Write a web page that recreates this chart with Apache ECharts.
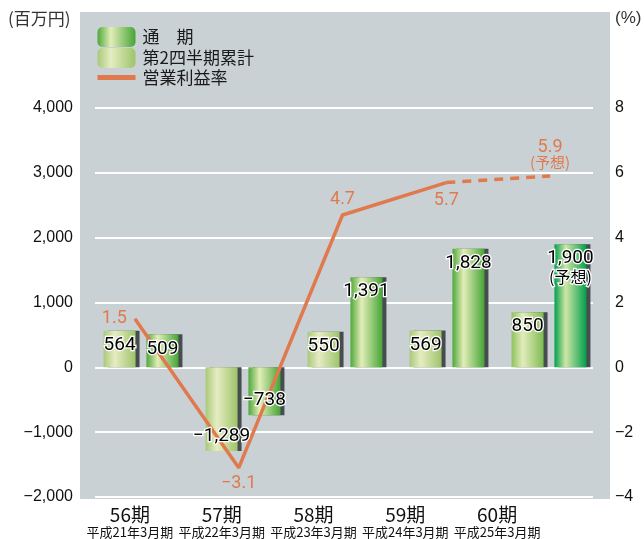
<!DOCTYPE html>
<html><head><meta charset="utf-8">
<script src="https://cdn.jsdelivr.net/npm/echarts@6/dist/echarts.min.js"></script>
<style>html,body{margin:0;padding:0;background:#fff}#c{width:644px;height:539px}</style>
</head><body><div id="c"></div>
<script>
const categories = ['56期', '57期', '58期', '59期', '60期'];
const periodLabels = ['平成21年3月期', '平成22年3月期', '平成23年3月期', '平成24年3月期', '平成25年3月期'];
const q2Values = [564, -1289, 550, 569, 850];
const fullValues = [509, -738, 1391, 1828, 1900];
const marginValues = [1.5, -3.1, 4.7, 5.7, 5.9];
const forecastIndex = 4;
const leftTicks = { min: -2000, max: 4000, interval: 1000 };
const rightTicks = { min: -4, max: 8, interval: 2 };
const seriesNames = { full: '通　期', q2: '第2四半期累計', margin: '営業利益率' };

const JP = '"Noto Sans CJK JP", "Noto Sans", sans-serif';
const NUM = 'Roboto, "Liberation Sans", sans-serif';
const ORANGE = '#e07a4e';

function fmt(v) {
  const s = Math.abs(v).toLocaleString('en-US');
  return (v < 0 ? '−' : '') + s;
}
function grad(stops) {
  return { type: 'linear', x: 0, y: 0, x2: 1, y2: 0,
    colorStops: stops.map(s => ({ offset: s[0], color: s[1] })) };
}
const q2Grad = grad([[0, '#a9c97a'], [0.35, '#e6ecc2'], [1, '#9dc46a']]);
const q2GradF = grad([[0, '#8fc25e'], [0.35, '#e2ecbc'], [1, '#7fbb52']]);
const fullGrad = grad([[0, '#4ea83a'], [0.35, '#e3edb8'], [1, '#45a535']]);
const fullGradF = grad([[0, '#00a04c'], [0.35, '#cfe6a6'], [1, '#00a04c']]);

const shadow = { shadowColor: '#474c50', shadowOffsetX: 4, shadowOffsetY: 0, shadowBlur: 0 };
const barLabelBase = {
  show: true, fontFamily: NUM, fontSize: 19, color: '#000',
  textBorderColor: '#fff', textBorderWidth: 2.5, distance: 5,
  rich: { f: { fontFamily: JP, fontSize: 16, color: '#000', textBorderColor: '#fff', textBorderWidth: 2.5, lineHeight: 18 } }
};
function barData(vals, normalGrad, fcGrad) {
  return vals.map((v, i) => ({
    value: v,
    itemStyle: Object.assign({ color: i === forecastIndex ? fcGrad : normalGrad }, shadow)
  }));
}
function labelData(vals) {
  return vals.map(v => ({ value: v, label: { position: v < 0 ? 'insideBottom' : 'insideTop' } }));
}
const solidLine = marginValues.map((v, i) => i < forecastIndex ? v : null);
const dashLine = marginValues.map((v, i) => i >= forecastIndex - 1 ? v : null);
const lineLabelPos = ['left', 'bottom', 'top', 'bottom', 'top'];
const lineLabelDist = [8, 7, 6, 9, 6];
function lineLabelData(arr, showIdx) {
  return arr.map((v, i) => v == null ? null : {
    value: v,
    label: { show: showIdx.indexOf(i) >= 0, position: lineLabelPos[i], distance: lineLabelDist[i] }
  });
}

const chart = echarts.init(document.getElementById('c'), null, { renderer: 'canvas' });
const H = { top: 108, bottom: 42 };
const barGrid = { left: 90, width: 510, top: H.top, bottom: H.bottom, show: false };
chart.setOption({
  animation: false,
  textStyle: { fontFamily: JP },
  grid: [
    { left: 80, top: 12, width: 530, height: 487, show: true, backgroundColor: '#c9d1d4', borderWidth: 0 },
    { left: 95, right: 51, top: H.top, bottom: H.bottom, show: false },
    barGrid,
    { left: 84, width: 459, top: H.top, bottom: H.bottom, show: false },
    { left: 83, width: 519, top: H.top, bottom: H.bottom, show: false },
    Object.assign({}, barGrid)
  ],
  xAxis: [
    { gridIndex: 0, type: 'category', data: categories, show: false },
    { gridIndex: 1, type: 'category', data: categories, show: false },
    { gridIndex: 2, type: 'category', data: categories, show: false },
    { gridIndex: 3, type: 'category', data: categories.map((c, i) => c + '|' + periodLabels[i]),
      axisLine: { show: false }, axisTick: { show: false },
      axisLabel: {
        margin: 9, interval: 0,
        formatter: v => { const p = v.split('|'); return '{a|' + p[0] + '}\n{b|' + p[1] + '}'; },
        rich: {
          a: { fontFamily: JP, fontSize: 19, color: '#111', lineHeight: 20 },
          b: { fontFamily: JP, fontSize: 13, color: '#111', lineHeight: 15 }
        }
      } },
    { gridIndex: 4, type: 'category', data: categories, show: false },
    { gridIndex: 5, type: 'category', data: categories, show: false }
  ],
  yAxis: [
    { gridIndex: 0, type: 'value', show: false },
    { gridIndex: 1, type: 'value', min: leftTicks.min, max: leftTicks.max, interval: leftTicks.interval,
      axisLine: { show: false }, axisTick: { show: false },
      splitLine: { show: true, lineStyle: { color: '#ffffff', width: 2 } },
      axisLabel: { margin: 22, fontFamily: '"Liberation Sans", Arial, sans-serif', fontSize: 16, color: '#111', formatter: v => fmt(v) } },
    { gridIndex: 1, type: 'value', position: 'right', min: rightTicks.min, max: rightTicks.max, interval: rightTicks.interval,
      axisLine: { show: false }, axisTick: { show: false }, splitLine: { show: false },
      axisLabel: { margin: 22, fontFamily: '"Liberation Sans", Arial, sans-serif', fontSize: 16, color: '#111', formatter: v => fmt(v) } },
    { gridIndex: 2, type: 'value', min: leftTicks.min, max: leftTicks.max, interval: leftTicks.interval, show: false },
    { gridIndex: 4, type: 'value', min: rightTicks.min, max: rightTicks.max, interval: rightTicks.interval, show: false },
    { gridIndex: 3, type: 'value', min: leftTicks.min, max: leftTicks.max, show: false },
    { gridIndex: 5, type: 'value', min: leftTicks.min, max: leftTicks.max, interval: leftTicks.interval, show: false }
  ],
  legend: {
    left: 90, top: 22, orient: 'vertical', itemWidth: 38, itemHeight: 20, itemGap: 1,
    data: [seriesNames.full, seriesNames.q2,
      { name: seriesNames.margin, itemStyle: { opacity: 0 }, lineStyle: { width: 5 } }],
    textStyle: { fontFamily: JP, fontSize: 17, color: '#1a1a1a', padding: [0, 0, 0, 2] },
    itemStyle: { shadowBlur: 0, shadowOffsetX: 0, shadowColor: 'rgba(0,0,0,0)' },
    selectedMode: false
  },
  series: [
    { name: seriesNames.q2, type: 'bar', xAxisIndex: 2, yAxisIndex: 3, barWidth: 32, barGap: '34%', z: 2,
      itemStyle: { color: q2Grad },
      data: barData(q2Values, q2Grad, q2GradF) },
    { name: seriesNames.full, type: 'bar', xAxisIndex: 2, yAxisIndex: 3, barWidth: 32, barGap: '34%', z: 2,
      itemStyle: { color: fullGrad },
      data: barData(fullValues, fullGrad, fullGradF) },
    { name: seriesNames.margin, type: 'line', xAxisIndex: 4, yAxisIndex: 4, z: 3,
      symbol: 'circle', symbolSize: 0.1, showSymbol: true,
      lineStyle: { color: ORANGE, width: 3.5 }, itemStyle: { color: ORANGE },
      label: { show: true, fontFamily: NUM, fontSize: 18, color: ORANGE, formatter: p => fmt(p.value) },
      data: lineLabelData(solidLine, [0, 1, 2, 3]) },
    { name: 'forecast', type: 'line', xAxisIndex: 4, yAxisIndex: 4, z: 3,
      symbol: 'circle', symbolSize: 0.1, showSymbol: true,
      lineStyle: { color: ORANGE, width: 3.5, type: [9, 7] }, itemStyle: { color: ORANGE },
      label: { show: true, fontFamily: NUM, fontSize: 18, color: ORANGE, lineHeight: 15,
        formatter: p => fmt(p.value) + '\n{f|(予想)}',
        rich: { f: { fontFamily: JP, fontSize: 15, color: ORANGE, lineHeight: 15 } } },
      data: lineLabelData(dashLine, [forecastIndex]) },
    { name: 'q2-label', type: 'bar', xAxisIndex: 5, yAxisIndex: 6, barWidth: 32, barGap: '34%', z: 4,
      itemStyle: { color: 'rgba(0,0,0,0)' }, silent: true,
      label: Object.assign({}, barLabelBase, { formatter: p => fmt(p.value) }),
      data: labelData(q2Values) },
    { name: 'full-label', type: 'bar', xAxisIndex: 5, yAxisIndex: 6, barWidth: 32, barGap: '34%', z: 4,
      itemStyle: { color: 'rgba(0,0,0,0)' }, silent: true,
      label: Object.assign({}, barLabelBase, {
        formatter: p => p.dataIndex === forecastIndex ? fmt(p.value) + '\n{f|(予想)}' : fmt(p.value) }),
      data: labelData(fullValues) }
  ],
  graphic: [
    { type: 'text', left: 8, top: 10, style: { text: '(百万円)', font: '17px "Noto Sans CJK JP"', fill: '#333' } },
    { type: 'text', left: 615, top: 10, style: { text: '(%)', font: '17px "Liberation Sans"', fill: '#333' } }
  ]
});
</script>
</body></html>
